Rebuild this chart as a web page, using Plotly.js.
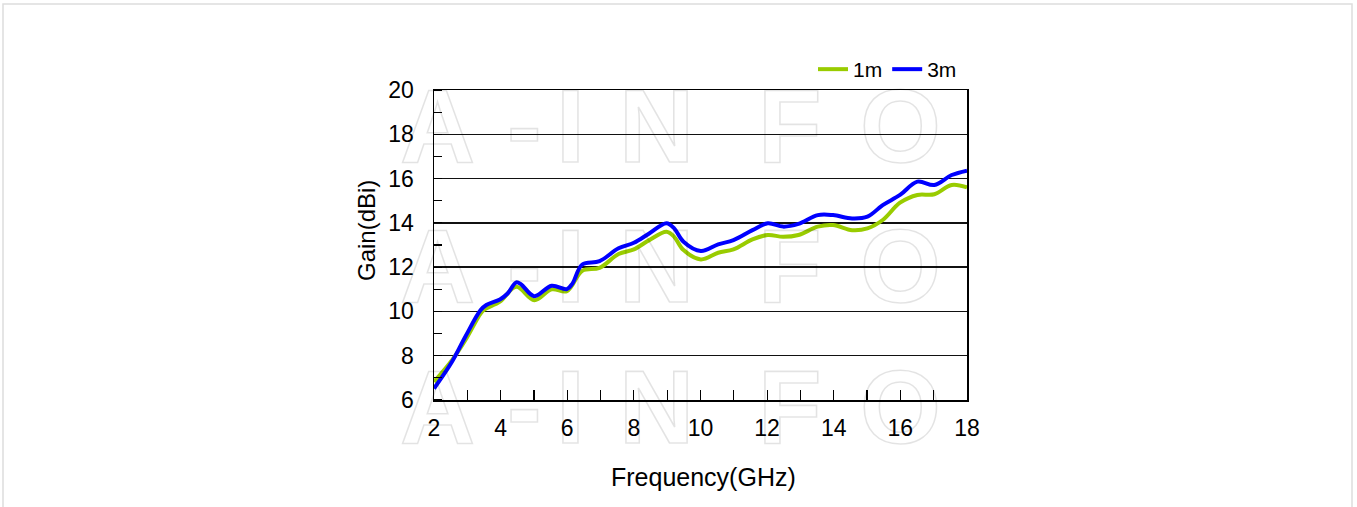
<!DOCTYPE html>
<html>
<head>
<meta charset="utf-8">
<script src="https://cdn.plot.ly/plotly-3.0.1.min.js"></script>
<style>html,body{margin:0;padding:0;background:#fff;}#chart{width:1357px;height:507px;}</style>
</head>
<body>
<div id="chart"></div>
<script>
const freq1m = [2.0, 2.54, 2.94, 3.40, 3.52, 3.98, 4.47, 5.01, 5.53, 5.99, 6.45, 6.97, 7.54, 8.0, 8.46, 8.98, 9.21, 9.49, 10.01, 10.53, 10.99, 11.56, 12.02, 12.48, 12.94, 13.52, 13.98, 14.55, 15.01, 15.47, 15.99, 16.51, 17.02, 17.54, 18.0];
const gain1m = [6.82, 7.80, 8.70, 9.91, 10.09, 10.44, 11.11, 10.51, 11.0, 10.92, 11.84, 11.97, 12.59, 12.80, 13.22, 13.60, 13.37, 12.77, 12.35, 12.65, 12.80, 13.25, 13.45, 13.37, 13.45, 13.83, 13.90, 13.67, 13.75, 14.13, 14.91, 15.26, 15.29, 15.71, 15.60];
const freq3m = [2.0, 2.54, 2.94, 3.40, 3.57, 3.98, 4.21, 4.47, 4.61, 5.01, 5.53, 5.99, 6.16, 6.45, 6.97, 7.54, 8.0, 8.46, 8.98, 9.21, 9.49, 10.01, 10.53, 10.99, 11.56, 12.02, 12.48, 12.94, 13.52, 13.98, 14.55, 15.01, 15.47, 15.99, 16.51, 17.02, 17.54, 18.0];
const gain3m = [6.52, 7.73, 8.86, 10.06, 10.29, 10.54, 10.81, 11.31, 11.23, 10.69, 11.16, 11.01, 11.27, 12.12, 12.27, 12.85, 13.10, 13.52, 13.98, 13.75, 13.15, 12.73, 13.03, 13.22, 13.67, 13.98, 13.83, 13.95, 14.35, 14.35, 14.20, 14.28, 14.80, 15.26, 15.86, 15.71, 16.16, 16.36];
const seriesNames = ['1m', '3m'];
const xTicks = [2, 4, 6, 8, 10, 12, 14, 16, 18];
const yTicks = [6, 8, 10, 12, 14, 16, 18, 20];
const watermark = ['A', '-', 'I', 'N', 'F', 'O'];

// plot area geometry in pixels
const L = 434, R = 967, T = 90, B = 400;
const px = v => (v - L) / (R - L);
const py = v => (B - v) / (B - T);

const letterX = [437, 524, 570, 656, 790, 900];
const rowY = [126, 266, 407];
const annotations = [];
rowY.forEach(ry => {
  watermark.forEach((ch, i) => {
    annotations.push({
      text: '<b>' + ch + '</b>', xref: 'paper', yref: 'paper', x: px(letterX[i]), y: py(ry),
      xanchor: 'center', yanchor: 'middle', showarrow: false,
      font: {family: 'Liberation Sans, Arial, sans-serif', size: 104, color: 'rgba(0,0,0,0.035)'}
    });
  });
});
annotations.push({
  text: 'Gain(dBi)', xref: 'paper', yref: 'paper', x: px(366), y: py(231),
  xanchor: 'center', yanchor: 'middle', showarrow: false, textangle: -90,
  font: {family: 'Liberation Sans, Arial, sans-serif', size: 24, color: '#000'}
});
annotations.push({
  text: 'Frequency(GHz)', xref: 'paper', yref: 'paper', x: px(703), y: py(477),
  xanchor: 'center', yanchor: 'middle', showarrow: false,
  font: {family: 'Liberation Sans, Arial, sans-serif', size: 25, color: '#000'}
});

const traces = [
  {x: freq1m, y: gain1m, name: seriesNames[0], type: 'scatter', mode: 'lines',
   line: {color: '#99cc00', width: 4, shape: 'spline', smoothing: 1}},
  {x: freq3m, y: gain3m, name: seriesNames[1], type: 'scatter', mode: 'lines',
   line: {color: '#0000ff', width: 4, shape: 'spline', smoothing: 1}}
];

const layout = {
  width: 1357, height: 507,
  margin: {l: L, r: 1357 - R, t: T, b: 507 - B, pad: 0},
  paper_bgcolor: '#fff', plot_bgcolor: 'rgba(0,0,0,0)',
  font: {family: 'Liberation Sans, Arial, sans-serif', color: '#000'},
  showlegend: true,
  legend: {orientation: 'h', x: px(813), y: py(49), xanchor: 'left', yanchor: 'top',
    font: {size: 21, color: '#000'}, bgcolor: 'rgba(0,0,0,0)', itemwidth: 30, tracegroupgap: 0},
  xaxis: {range: [2, 18], tickvals: xTicks, ticktext: xTicks.map(String), showgrid: false, zeroline: false,
    showline: true, linecolor: '#000', linewidth: 1.5, mirror: true,
    ticks: 'inside', ticklen: 10, tickcolor: '#000', tickwidth: 1.2,
    minor: {dtick: 1, ticks: 'inside', ticklen: 10, tickcolor: '#000', tickwidth: 1.2, showgrid: false},
    tickfont: {size: 23}, ticklabelstandoff: 7, fixedrange: true},
  yaxis: {range: [6, 20], tickvals: yTicks, ticktext: yTicks.map(String), showgrid: true, gridcolor: '#111', gridwidth: 1.3,
    zeroline: false, showline: true, linecolor: '#000', linewidth: 1.5, mirror: true,
    ticks: '', minor: {dtick: 1, ticks: 'inside', ticklen: 8, tickcolor: '#000', tickwidth: 1.2, showgrid: false},
    tickfont: {size: 23}, ticklabelstandoff: 14, fixedrange: true},
  annotations: annotations,
  shapes: [{type: 'rect', xref: 'paper', yref: 'paper', x0: px(3), x1: px(1352), y0: py(4), y1: py(512),
    line: {color: '#dddddd', width: 1.5}, fillcolor: 'rgba(0,0,0,0)', layer: 'below'}]
};

Plotly.newPlot('chart', traces, layout, {displayModeBar: false, staticPlot: true}).then(gd => {
  // render the watermark letters as outlines, like the reference
  gd.querySelectorAll('.annotation-text').forEach(t => {
    if (watermark.indexOf(t.textContent) >= 0) {
      t.style.fill = 'none';
      t.style.stroke = 'rgba(0,0,0,0.11)';
      t.style.strokeWidth = '1.6px';
    }
  });
});
</script>
</body>
</html>
